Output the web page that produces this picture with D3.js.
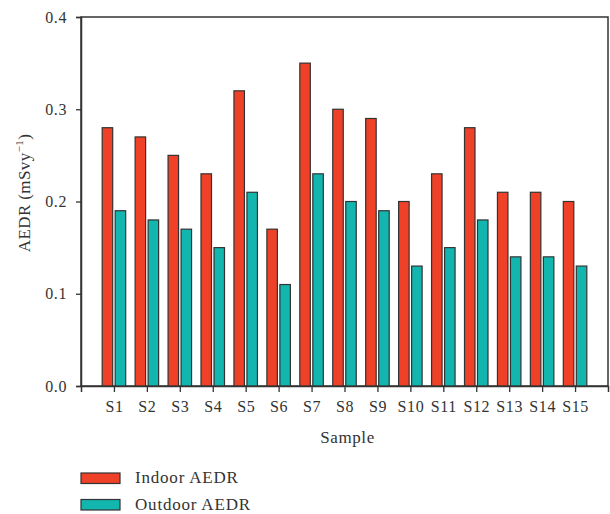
<!DOCTYPE html>
<html>
<head>
<meta charset="utf-8">
<script src="https://cdn.jsdelivr.net/npm/d3@7"></script>
<style>
  html, body { margin: 0; padding: 0; background: #fff; }
  svg { display: block; font-family: "Liberation Serif", "DejaVu Serif", serif; }
</style>
</head>
<body>
<div id="chart"></div>
<script>
// Sample sites and their annual effective dose rates (mSv/y)
const samples = ["S1","S2","S3","S4","S5","S6","S7","S8","S9","S10","S11","S12","S13","S14","S15"];
const indoor  = [0.28,0.27,0.25,0.23,0.32,0.17,0.35,0.30,0.29,0.20,0.23,0.28,0.21,0.21,0.20];
const outdoor = [0.19,0.18,0.17,0.15,0.21,0.11,0.23,0.20,0.19,0.13,0.15,0.18,0.14,0.14,0.13];
const yTicks  = [0, 0.1, 0.2, 0.3, 0.4];
const seriesNames = ["Indoor AEDR", "Outdoor AEDR"];
const colors = ["#EE4127", "#12B6AE"];

const W = 610, H = 514;
const m = { left: 81, right: 2, top: 17, bottom: 128 };
const pw = W - m.left - m.right, ph = H - m.top - m.bottom;

const svg = d3.select("#chart").append("svg").attr("width", W).attr("height", H);
const g = svg.append("g").attr("transform", `translate(${m.left},${m.top})`);

// Sample positions 1..15 on a 0..16 axis
const x = d3.scaleLinear().domain([0, samples.length + 1]).range([0, pw]);
const y = d3.scaleLinear().domain([0, 0.4]).range([ph, 0]);

const barW = 10.5, gap = 2.5;

// plot frame
g.append("rect").attr("x", 0).attr("y", 0).attr("width", pw).attr("height", ph)
  .attr("fill", "none").attr("stroke", "#333").attr("stroke-width", 1.5);

const series = [indoor, outdoor];
series.forEach((vals, si) => {
  g.append("g").selectAll("rect").data(vals).join("rect")
    .attr("x", (d, i) => si === 0 ? x(i + 1) - gap / 2 - barW : x(i + 1) + gap / 2)
    .attr("y", d => y(d))
    .attr("width", barW)
    .attr("height", d => ph - y(d))
    .attr("fill", colors[si])
    .attr("stroke", "#333")
    .attr("stroke-width", 1.2);
});

// axes
const yAxis = g.append("g")
  .call(d3.axisLeft(y).tickValues(yTicks).tickFormat(d3.format(".1f")).tickSize(5).tickPadding(9));
const xAxis = g.append("g").attr("transform", `translate(0,${ph})`)
  .call(d3.axisBottom(x).tickValues(d3.range(1, samples.length + 1))
    .tickFormat(d => samples[d - 1]).tickSize(6).tickPadding(9));
[yAxis, xAxis].forEach(a => {
  a.select(".domain").attr("stroke", "#333").attr("stroke-width", 1.5);
  a.selectAll(".tick line").attr("stroke", "#333").attr("stroke-width", 1.3);
  a.selectAll("text").attr("font-family", "Liberation Serif, DejaVu Serif, serif")
    .attr("font-size", 16).attr("letter-spacing", 0.6).attr("fill", "#333");
});

// axis titles
svg.append("text")
  .attr("x", m.left + pw / 2 + 3).attr("y", 443)
  .attr("text-anchor", "middle").attr("font-size", 17).attr("letter-spacing", 0.6)
  .attr("fill", "#333")
  .text("Sample");

const yl = svg.append("text")
  .attr("transform", `translate(30,193) rotate(-90)`)
  .attr("text-anchor", "middle").attr("font-size", 17).attr("letter-spacing", 0.4)
  .attr("fill", "#333");
yl.append("tspan").text("AEDR (mSvy");
yl.append("tspan").attr("dy", -7).attr("font-size", 11).text("−1");
yl.append("tspan").attr("dy", 7).text(")");

// legend
const lg = svg.append("g").attr("transform", "translate(81,473)");
seriesNames.forEach((name, i) => {
  const row = lg.append("g").attr("transform", `translate(0,${i * 26.5})`);
  row.append("rect").attr("width", 39).attr("height", 10.5)
    .attr("fill", colors[i]).attr("stroke", "#333").attr("stroke-width", 1.2);
  row.append("text").attr("x", 54).attr("y", 10)
    .attr("font-size", 17).attr("letter-spacing", 0.8).attr("fill", "#333").text(name);
});
</script>
</body>
</html>
